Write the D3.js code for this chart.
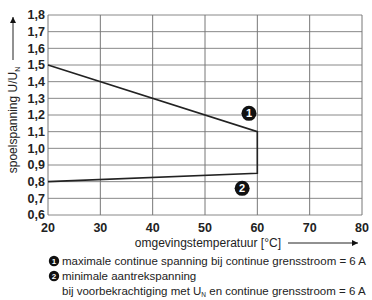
<!DOCTYPE html>
<html>
<head>
<meta charset="utf-8">
<script src="https://cdn.jsdelivr.net/npm/d3@7"></script>
<style>
body { margin: 0; background: #fff; }
svg { font-family: "Liberation Sans", Arial, sans-serif; }
</style>
</head>
<body>
<div id="chart"></div>
<script>
// curve: max continuous voltage (1) then min pick-up voltage (2)
var tempX = [20, 60, 60, 20];
var voltY = [1.5, 1.1, 0.85, 0.8];
var xTicks = [20, 30, 40, 50, 60, 70, 80];
var yTicks = [0.6, 0.7, 0.8, 0.9, 1.0, 1.1, 1.2, 1.3, 1.4, 1.5, 1.6, 1.7, 1.8];
var markerX = [58.4, 57.1];
var markerY = [1.21, 0.76];
var markerLabels = ["1", "2"];
var legendLines = [
  "maximale continue spanning bij continue grensstroom = 6 A",
  "minimale aantrekspanning"
];

var W = 372, H = 300;
var margin = {top: 15, right: 10, bottom: 85, left: 48};
var width = W - margin.left - margin.right,
    height = H - margin.top - margin.bottom;

var svg = d3.select("#chart").append("svg")
    .attr("width", W).attr("height", H);

var g = svg.append("g")
    .attr("transform", "translate(" + margin.left + "," + margin.top + ")");

var x = d3.scaleLinear().domain([20, 80]).range([0, 314]);
var y = d3.scaleLinear().domain([0.6, 1.8]).range([200, 0]);

// grid
g.selectAll(".hgrid").data(yTicks).enter().append("line")
    .attr("x1", 0).attr("x2", x(80))
    .attr("y1", function(d) { return y(d); })
    .attr("y2", function(d) { return y(d); })
    .attr("stroke", "#888").attr("stroke-width", 1);
g.selectAll(".vgrid").data(xTicks).enter().append("line")
    .attr("y1", 0).attr("y2", y(0.6))
    .attr("x1", function(d) { return x(d); })
    .attr("x2", function(d) { return x(d); })
    .attr("stroke", "#777").attr("stroke-width", 1);

// tick labels
var fmt = function(d) { return d3.format(".1f")(d).replace(".", ","); };
g.selectAll(".ylab").data(yTicks).enter().append("text")
    .attr("x", -3).attr("y", function(d) { return y(d); })
    .attr("dy", "0.35em")
    .attr("text-anchor", "end")
    .style("font-size", "12.5px").style("font-weight", "bold")
    .attr("fill", "#222")
    .text(fmt);
g.selectAll(".xlab").data(xTicks).enter().append("text")
    .attr("x", function(d) { return x(d); }).attr("y", y(0.6) + 13)
    .attr("dy", "0.35em")
    .attr("text-anchor", "middle")
    .style("font-size", "12.5px").style("font-weight", "bold")
    .attr("fill", "#222")
    .text(function(d) { return d; });

// curve
var line = d3.line()
    .x(function(d, i) { return x(tempX[i]); })
    .y(function(d, i) { return y(voltY[i]); });
g.append("path").datum(tempX)
    .attr("d", line)
    .attr("fill", "none").attr("stroke", "#222").attr("stroke-width", 1.6);

// markers
var mk = g.selectAll(".mk").data(markerLabels).enter().append("g")
    .attr("transform", function(d, i) {
      return "translate(" + x(markerX[i]) + "," + y(markerY[i]) + ")";
    });
mk.append("circle").attr("r", 7.5).attr("fill", "#111");
mk.append("text").attr("text-anchor", "middle").attr("dy", "0.36em")
    .attr("fill", "#fff").style("font-size", "11px").style("font-weight", "bold")
    .text(function(d) { return d; });

// arrow marker
svg.append("defs").append("marker")
    .attr("id", "arr").attr("viewBox", "0 0 10 10")
    .attr("refX", 10).attr("refY", 5)
    .attr("markerWidth", 10).attr("markerHeight", 6)
    .attr("markerUnits", "userSpaceOnUse")
    .attr("orient", "auto")
  .append("path").attr("d", "M0,0L10,5L0,10Z").attr("fill", "#111");

// y axis title
var yt = svg.append("text")
    .attr("transform", "translate(17,120) rotate(-90)")
    .attr("text-anchor", "middle")
    .style("font-size", "12px").attr("fill", "#222");
yt.append("tspan").text("spoelspanning U/U");
yt.append("tspan").attr("dy", 3).style("font-size", "7px").text("N");
svg.append("line")
    .attr("x1", 13).attr("x2", 13).attr("y1", 60).attr("y2", 17)
    .attr("stroke", "#222").attr("stroke-width", 1)
    .attr("marker-end", "url(#arr)");

// x axis title
svg.append("text")
    .attr("x", 281).attr("y", 243).attr("dy", "0.35em")
    .attr("text-anchor", "end")
    .style("font-size", "12px").attr("fill", "#222")
    .text("omgevingstemperatuur [°C]");
svg.append("line")
    .attr("x1", 288).attr("x2", 358).attr("y1", 243).attr("y2", 243)
    .attr("stroke", "#222").attr("stroke-width", 1)
    .attr("marker-end", "url(#arr)");

// legend
var lg = svg.append("g");
var ly = [261, 276];
lg.selectAll(".lc").data(markerLabels).enter().append("circle")
    .attr("cx", 54).attr("cy", function(d, i) { return ly[i]; })
    .attr("r", 5.2).attr("fill", "#111");
lg.selectAll(".ln").data(markerLabels).enter().append("text")
    .attr("x", 54).attr("y", function(d, i) { return ly[i]; })
    .attr("dy", "0.36em").attr("text-anchor", "middle")
    .attr("fill", "#fff").style("font-size", "8px").style("font-weight", "bold")
    .text(function(d) { return d; });
lg.selectAll(".lt").data(legendLines).enter().append("text")
    .attr("x", 62).attr("y", function(d, i) { return ly[i]; })
    .attr("dy", "0.35em")
    .style("font-size", "11.5px").attr("fill", "#222")
    .text(function(d) { return d; });
var l3 = lg.append("text").attr("x", 62).attr("y", 291).attr("dy", "0.35em")
    .style("font-size", "11.5px").attr("fill", "#222");
l3.append("tspan").text("bij voorbekrachtiging met U");
l3.append("tspan").attr("dy", 2).style("font-size", "6.5px").text("N");
l3.append("tspan").attr("dy", -2).text(" en continue grensstroom = 6 A");
</script>
</body>
</html>
